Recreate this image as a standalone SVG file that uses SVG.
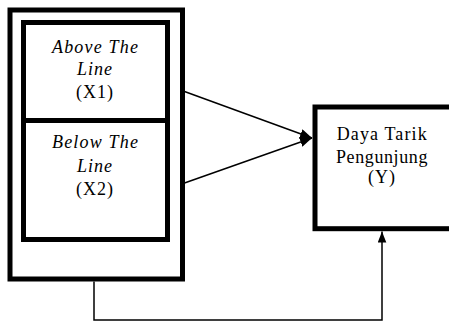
<svg xmlns="http://www.w3.org/2000/svg" width="449" height="331" viewBox="0 0 449 331">
<style>
.box{fill:#fff;stroke:#000;stroke-width:5}
.t{font-family:"Liberation Serif","Times New Roman",serif;font-size:18px;fill:#000;text-anchor:middle}
.i{font-style:italic}
.c{fill:none;stroke:#000;stroke-width:1.5}
</style>
<defs>
<marker id="ah" viewBox="0 0 12 10" refX="12" refY="5" markerWidth="12" markerHeight="10" markerUnits="userSpaceOnUse" orient="auto">
<path d="M0,0 L12,5 L0,10 z" fill="#000"/>
</marker>
<marker id="ah2" viewBox="0 0 11 14" refX="14" refY="5.5" markerWidth="14" markerHeight="11" markerUnits="userSpaceOnUse" orient="auto">
<path d="M0,0 L14,5.5 L0,11 z" fill="#000"/>
</marker>
</defs>
<rect width="449" height="331" fill="#fff"/>
<g id="outer">
<rect class="box" x="10" y="10" width="172.5" height="269"/>
</g>
<g id="x1">
<rect class="box" x="23.5" y="22.5" width="144" height="98"/>
<text class="t i" x="95" y="53.3" textLength="86" lengthAdjust="spacing">Above The</text>
<text class="t i" x="95" y="75" letter-spacing="1">Line</text>
<text class="t" x="95" y="98.3" letter-spacing="1">(X1)</text>
</g>
<g id="x2">
<rect class="box" x="23.5" y="120.5" width="144" height="119"/>
<text class="t i" x="95" y="148.3" textLength="86" lengthAdjust="spacing">Below The</text>
<text class="t i" x="95" y="171.7" letter-spacing="1">Line</text>
<text class="t" x="95" y="195" letter-spacing="1">(X2)</text>
</g>
<g id="y">
<rect class="box" x="315" y="107" width="140" height="121.7"/>
<text class="t" x="381.7" y="140" textLength="90" lengthAdjust="spacing">Daya Tarik</text>
<text class="t" x="381.7" y="163.3" textLength="91.5" lengthAdjust="spacing">Pengunjung</text>
<text class="t" x="382" y="183.3" letter-spacing="1">(Y)</text>
</g>
<g id="connectors">
<line class="c" x1="184.5" y1="91.5" x2="312" y2="138" marker-end="url(#ah)"/>
<line class="c" x1="184.5" y1="183" x2="312" y2="138" marker-end="url(#ah)"/>
<polyline class="c" points="94,281.5 94,320 382,320 382,231.5" marker-end="url(#ah2)"/>
</g>
</svg>
